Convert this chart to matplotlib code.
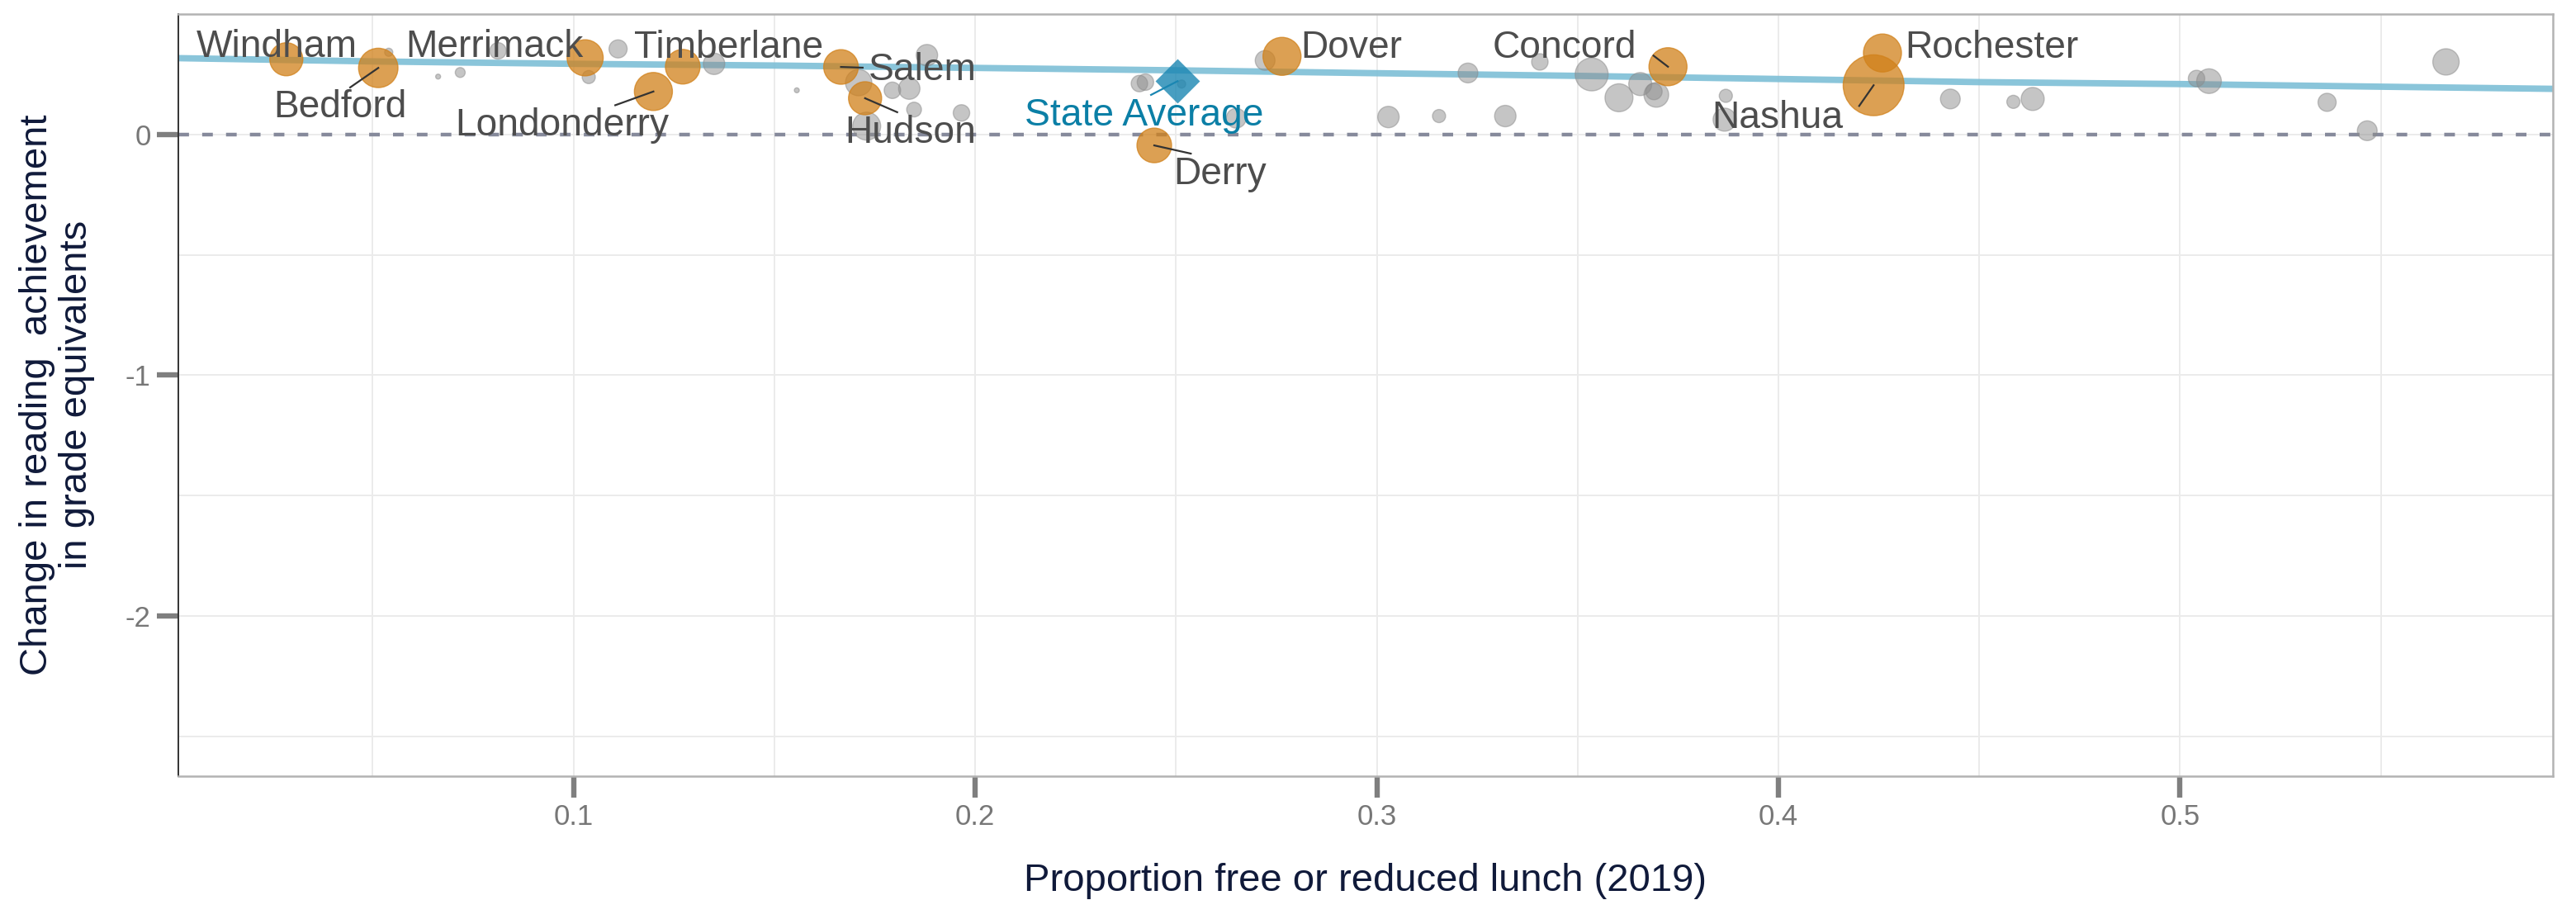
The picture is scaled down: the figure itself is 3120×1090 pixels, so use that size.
import matplotlib
matplotlib.use("Agg")
import matplotlib.pyplot as plt
from matplotlib.ticker import MultipleLocator

plt.rcParams['font.family'] = ['Liberation Sans', 'DejaVu Sans']

# highlighted districts: proportion FRL, change in reading GE, enrollment (thousands)
names = ['Windham', 'Bedford', 'Merrimack', 'Londonderry', 'Timberlane', 'Salem',
         'Hudson', 'Derry', 'Dover', 'Concord', 'Rochester', 'Nashua']
hl_frl = [0.0285, 0.0514, 0.1029, 0.1199, 0.1272, 0.1666,
          0.1726, 0.2446, 0.2764, 0.3725, 0.4259, 0.4237]
hl_change = [0.313, 0.277, 0.319, 0.179, 0.282, 0.281,
             0.151, -0.045, 0.325, 0.282, 0.339, 0.205]
hl_enroll = [3.1, 4.4, 3.7, 4.1, 3.4, 3.4, 3.1, 3.4, 4.1, 4.1, 4.1, 10.5]

# other districts
frl = [0.054, 0.0663, 0.0718, 0.0812, 0.1038, 0.1111, 0.135, 0.1556, 0.171, 0.173,
       0.188, 0.1794, 0.1836, 0.1848, 0.1966, 0.2409, 0.2424, 0.2514, 0.265, 0.2722,
       0.3029, 0.3155, 0.3227, 0.332, 0.3406, 0.3535, 0.3603, 0.3656, 0.3696, 0.369,
       0.3869, 0.3866, 0.4428, 0.4585, 0.4633, 0.5041, 0.5072, 0.5366, 0.5466, 0.5662]
change = [0.342, 0.241, 0.258, 0.348, 0.239, 0.356, 0.294, 0.184, 0.216, 0.035,
          0.330, 0.184, 0.191, 0.104, 0.090, 0.212, 0.218, 0.210, 0.068, 0.308,
          0.073, 0.077, 0.256, 0.077, 0.302, 0.250, 0.153, 0.210, 0.165, 0.179,
          0.161, 0.062, 0.148, 0.136, 0.148, 0.233, 0.222, 0.134, 0.016, 0.302]
enroll = [0.19, 0.07, 0.28, 0.77, 0.49, 0.93, 1.30, 0.07, 1.97, 2.22,
          1.30, 0.77, 1.30, 0.62, 0.77, 0.77, 0.77, 0.19, 1.11, 1.11,
          1.30, 0.49, 1.11, 1.30, 0.77, 3.08, 2.22, 1.51, 1.73, 0.77,
          0.49, 1.51, 1.11, 0.49, 1.51, 0.77, 1.73, 0.93, 1.11, 1.97]

state_frl = 0.2504
state_change = 0.222

# smoothed trend
trend_x = [0.0, 0.05, 0.10, 0.15, 0.20, 0.25, 0.30, 0.35, 0.40, 0.45, 0.50, 0.55, 0.593]
trend_y = [0.318, 0.304, 0.294, 0.287, 0.277, 0.267, 0.255, 0.244, 0.231, 0.218, 0.210, 0.199, 0.190]

# label placement: (text x, text baseline y, leader start or None)
label_pos = {
    'Windham': (0.0261, 0.321, None),
    'Bedford': (0.0418, 0.073, (0.0444, 0.196)),
    'Merrimack': (0.0804, 0.321, None),
    'Londonderry': (0.0972, -0.003, (0.1104, 0.122)),
    'Timberlane': (0.1386, 0.319, None),
    'Salem': (0.1869, 0.225, (0.1720, 0.278)),
    'Hudson': (0.1838, -0.035, (0.1806, 0.093)),
    'Derry': (0.2610, -0.207, (0.2537, -0.079)),
    'Dover': (0.2937, 0.319, None),
    'Concord': (0.3467, 0.319, (0.3689, 0.328)),
    'Rochester': (0.4531, 0.319, None),
    'Nashua': (0.3997, 0.027, (0.4201, 0.119)),
}

size_scale = 67  # points^2 per thousand students

fig = plt.figure(figsize=(15.6, 5.45), dpi=200)
ax = fig.add_axes([0.0692, 0.1376, 0.9218, 0.8471])

ax.set_xlim(0.0016, 0.5928)
ax.set_ylim(-2.666, 0.502)

ax.xaxis.set_major_locator(MultipleLocator(0.1))
ax.xaxis.set_minor_locator(MultipleLocator(0.05))
ax.yaxis.set_major_locator(MultipleLocator(1))
ax.yaxis.set_minor_locator(MultipleLocator(0.5))
ax.grid(True, which='both', color='#ebebeb', lw=0.7, zorder=0)
ax.set_axisbelow(True)
ax.set_xticks([0.1, 0.2, 0.3, 0.4, 0.5])
ax.set_xticklabels(['0.1', '0.2', '0.3', '0.4', '0.5'])
ax.set_yticks([0, -1, -2])
ax.set_yticklabels(['0', '-1', '-2'])
ax.tick_params(which='major', length=9.4, width=2.3, color='#7f7f7f',
               labelcolor='#777777', labelsize=12.5, pad=2.5)
ax.tick_params(which='minor', length=0)

for side in ['top', 'right', 'bottom']:
    ax.spines[side].set_color('#b3b3b3')
    ax.spines[side].set_linewidth(0.9)
ax.spines['left'].set_color('#333333')
ax.spines['left'].set_linewidth(0.7)

ax.axhline(0, color='#868a9b', lw=1.6, ls=(0, (2.9, 3.6)), zorder=1)

ax.plot(trend_x, trend_y, color='#7dbfd6', lw=2.8, alpha=0.9, zorder=2,
        solid_capstyle='butt')

ax.scatter(frl, change, s=[e * size_scale for e in enroll], color='#8d8d8d',
           alpha=0.5, edgecolors='#8a8a8a', linewidths=0.5, zorder=3)
ax.scatter(hl_frl, hl_change, s=[e * size_scale for e in hl_enroll], color='#d1811a',
           alpha=0.75, edgecolors='#d1811a', linewidths=0.5, zorder=4)

ax.scatter([state_frl], [state_change], marker='D', s=188, color='#1a86b2',
           alpha=0.8, linewidths=0, zorder=5)

for i, name in enumerate(names):
    tx, ty, lead = label_pos[name]
    if lead is not None:
        ax.plot([lead[0], hl_frl[i]], [lead[1], hl_change[i]], color='#333333',
                lw=0.8, zorder=6)
    ax.text(tx, ty, name, ha='center', va='baseline', fontsize=16.6,
            color='#4d4d4d', zorder=7)

ax.plot([0.2438, state_frl], [0.165, state_change], color='#1a86b2', lw=0.8, zorder=6)
ax.text(0.2420, 0.039, 'State Average', ha='center', va='baseline', fontsize=16.6,
        color='#0b7fa6', zorder=7)

ax.set_xlabel('Proportion free or reduced lunch (2019)', fontsize=17,
              color='#101a3a', labelpad=14)
ax.set_ylabel('Change in reading  achievement\nin grade equivalents', fontsize=17,
              color='#101a3a', linespacing=1.12)
ax.yaxis.set_label_coords(-0.035, 0.5)

fig.savefig('out.png', dpi=200)
